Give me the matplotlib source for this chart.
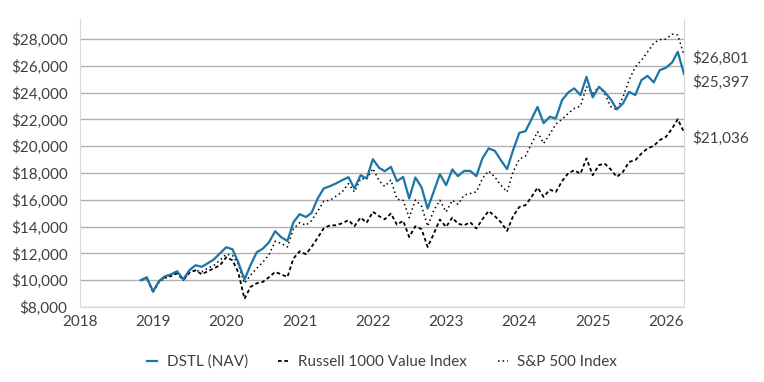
import pandas as pd
import matplotlib
matplotlib.use("Agg")
import matplotlib.pyplot as plt
import matplotlib.dates as mdates
from matplotlib.ticker import FuncFormatter, MultipleLocator

plt.rcParams['font.family'] = ['Lato', 'DejaVu Sans']

# month-end values, Oct 2018 .. Mar 2026 (growth of $10,000)
dates = pd.date_range('2018-10-31', periods=90, freq='ME')

dstl = [10000, 10220, 9170, 9950, 10290, 10440, 10670, 10070, 10740, 11120,
        11000, 11270, 11560, 12010, 12460, 12310, 11340, 10050, 11120, 12090,
        12350, 12830, 13660, 13210, 12930, 14330, 14930, 14720, 15020, 16100,
        16850, 17020, 17220, 17470, 17690, 16850, 17840, 17590, 19035, 18390,
        18140, 18460, 17390, 17710, 16100, 17670, 16920, 15350, 16640, 17920,
        17090, 18270, 17770, 18160, 18160, 17770, 19090, 19840, 19660, 18960,
        18290, 19710, 21000, 21130, 22000, 22940, 21730, 22200, 22080, 23440,
        24020, 24320, 23820, 25180, 23650, 24440, 24060, 23500, 22750, 23200,
        24060, 23820, 24940, 25260, 24770, 25680, 25860, 26260, 27050, 25397]

russell = [10000, 10150, 9140, 9920, 10220, 10330, 10520, 10000, 10560, 10740,
           10440, 10670, 10890, 11120, 11710, 11490, 10590, 8610, 9500, 9770,
           9870, 10220, 10620, 10440, 10240, 11620, 12160, 11940, 12480, 13170,
           13880, 14100, 14100, 14250, 14480, 14030, 14680, 14290, 15110, 14780,
           14550, 14980, 14140, 14440, 13230, 14030, 13810, 12480, 13480, 14530,
           13980, 14680, 14220, 14100, 14330, 13860, 14550, 15170, 14780, 14330,
           13680, 14780, 15470, 15600, 16200, 16910, 16220, 16760, 16590, 17390,
           17990, 18210, 17950, 19090, 17840, 18590, 18710, 18270, 17710, 18090,
           18830, 18960, 19460, 19840, 20030, 20460, 20700, 21330, 22020, 21036]

sp500 = [10000, 10150, 9100, 9880, 10150, 10290, 10590, 10000, 10590, 10740,
         10630, 10890, 11120, 11490, 11940, 11860, 11190, 9770, 10370, 10890,
         11340, 11900, 12910, 12740, 12480, 13840, 14290, 14100, 14440, 15150,
         15900, 15970, 16270, 16590, 17210, 16590, 17590, 17540, 18340, 17430,
         17000, 17490, 16050, 15970, 14670, 15990, 15520, 14030, 15230, 15970,
         15100, 15970, 15670, 16350, 16470, 16590, 17590, 18160, 17710, 17090,
         16590, 18090, 19040, 19260, 20160, 21080, 20210, 20900, 21650, 22020,
         22450, 22820, 23000, 24440, 23940, 24440, 23940, 22960, 22700, 23670,
         24940, 25910, 26430, 27030, 27700, 27960, 28000, 28370, 28300, 26801]

series_names = ['DSTL (NAV)', 'Russell 1000 Value Index', 'S&P 500 Index']

fig = plt.figure(figsize=(7.64, 3.82), dpi=100)
ax = fig.add_axes([80 / 764, 1 - 307 / 382, 604 / 764, 288 / 382])

ax.plot(dates, dstl, color='#1b75a6', lw=1.6, label=series_names[0], zorder=4)
ax.plot(dates, russell, color='black', lw=1.3, ls=(0, (2, 1.5)), label=series_names[1], zorder=3)
ax.plot(dates, sp500, color='black', lw=1.1, ls=(0, (1, 2)), label=series_names[2], zorder=3)

ax.set_ylim(8000, 29500)
ax.set_xlim(pd.Timestamp('2018-01-01'), dates[-1])
ax.yaxis.set_major_locator(MultipleLocator(2000))
ax.yaxis.set_major_formatter(FuncFormatter(lambda v, p: f'${v:,.0f}'))
ax.xaxis.set_major_locator(mdates.YearLocator())
ax.xaxis.set_major_formatter(mdates.DateFormatter('%Y'))

ax.grid(axis='y', color='#b0b0b0', lw=1)
ax.set_axisbelow(True)
ax.tick_params(length=0, labelsize=11, labelcolor='#404040')
ax.tick_params(axis='x', pad=6)
ax.tick_params(axis='y', pad=9)
ax.spines['top'].set_visible(False)
for s in ['left', 'right', 'bottom']:
    ax.spines[s].set_color('#d9d9d9')

# end-of-series value labels
ends = [(dstl[-1], -6), (russell[-1], -4.5), (sp500[-1], -2)]
for val, dy in ends:
    ax.annotate(f'${val:,.0f}', xy=(dates[-1], val), xytext=(6, dy),
                textcoords='offset points', va='center', ha='left',
                fontsize=11, color='#404040', annotation_clip=False)

fig.legend(loc='center', bbox_to_anchor=(0.5, 1 - 362 / 382), ncol=3, frameon=False,
           fontsize=11, handlelength=0.7, handletextpad=0.6, columnspacing=2.0,
           labelcolor='#404040')

fig.savefig('out.png', dpi=100)
